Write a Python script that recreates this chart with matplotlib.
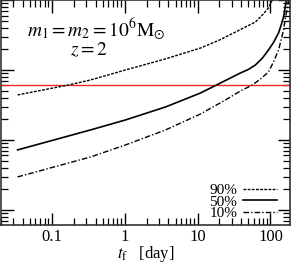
import numpy as np
import matplotlib
matplotlib.use("Agg")
import matplotlib.pyplot as plt

plt.rcParams['font.family'] = ['Liberation Serif', 'DejaVu Serif']
plt.rcParams['mathtext.fontset'] = 'stix'

# curves (t_f in days, y in arbitrary log units)
t90 = [0.0342, 0.171, 0.342, 1.03, 3.65, 11.0, 19.4, 33.2, 45.4, 62.3, 77.6, 93.9, 100, 106]
y90 = [44, 61, 72, 100, 144, 206, 264, 349, 411, 485, 611, 769, 877, 1000]

t50 = [0.0342, 0.342, 1.03, 3.65, 11.0, 18.2, 26.6, 38.8, 50.0, 62.3, 77.6, 93.9,
       110, 129, 141, 151, 160, 166]
y50 = [7.2, 13.9, 19.3, 29.6, 46.9, 61, 74.4, 90.6, 102, 118, 148, 193,
       247, 338, 447, 571, 821, 1000]

t10 = [0.0342, 0.342, 1.03, 3.65, 11.0, 24.2, 38.8, 56.6, 72.9, 93.9,
       110, 129, 141, 151, 160, 171, 177]
y10 = [2.96, 5.71, 8.48, 13.9, 23.5, 37.3, 50.1, 61, 74.4, 93.6,
       130, 193, 277, 373, 553, 794, 1000]

y_ref = 61
xticks = [0.1, 1, 10, 100]
xtick_labels = ['0.1', '1', '10', '100']

fig = plt.figure(figsize=(2.91, 2.64), dpi=100)
ax = fig.add_axes([0.002, 0.148, 0.995, 0.852])

ax.axhline(y_ref, color='#f02828', lw=1.0)
ax.plot(t90, y90, color='black', lw=1.0, ls=(0, (2, 1)), label='90%')
ax.plot(t50, y50, color='black', lw=1.2, ls='-', label='50%')
ax.plot(t10, y10, color='black', lw=1.0, ls=(0, (4, 1.5, 1, 1.5)), label='10%')

ax.set_xscale('log')
ax.set_yscale('log')
ax.set_xlim(0.02, 186)
ax.set_ylim(0.61, 1000)

ax.set_xticks(xticks)
ax.set_xticklabels(xtick_labels)
ax.tick_params(which='both', direction='in', top=True, right=True, labelsize=12, pad=3)
ax.tick_params(which='major', length=9, width=1)
ax.tick_params(which='minor', length=5, width=0.9)
ax.tick_params(axis='y', which='both', labelleft=False)
for s in ax.spines.values():
    s.set_linewidth(1.2)
    s.set_color('#333333')

ax.set_xlabel(r'$t_{\rm f}$   [day]', fontsize=12, labelpad=-1)

ax.text(0.33, 0.84, r'$m_1 = m_2 = 10^6{\rm M}_{\odot}$', transform=ax.transAxes,
        fontsize=14, ha='center', va='baseline')
ax.text(0.305, 0.756, r'$z = 2$', transform=ax.transAxes,
        fontsize=14, ha='center', va='baseline')

ax.legend(loc='lower right', bbox_to_anchor=(0.955, 0.022), markerfirst=False,
          frameon=False, fontsize=11, handlelength=2.2, handletextpad=0.4,
          labelspacing=-0.15, borderaxespad=0, borderpad=0)

fig.savefig('out.png', dpi=100)
